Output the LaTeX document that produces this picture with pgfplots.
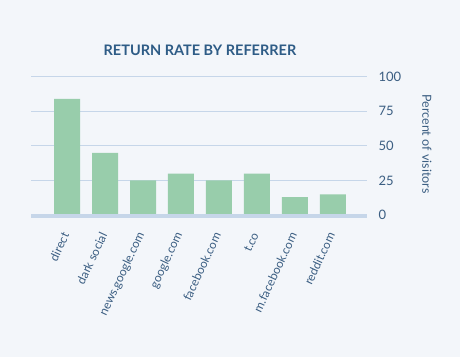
\documentclass[border=0pt]{standalone}
\usepackage{fontspec}
\setmainfont{Lato}
\usepackage{pgfplots}
\pgfplotsset{compat=1.18}
\definecolor{bg}{HTML}{F3F6FA}
\definecolor{gridc}{HTML}{C6D6E9}
\definecolor{barc}{HTML}{98CDAB}
\definecolor{titlec}{HTML}{2E5C86}
\definecolor{tickc}{HTML}{3B5E82}
\begin{document}
\begin{tikzpicture}[x=1pt,y=1pt]
\fill[bg] (0,0) rectangle (460,357);
\begin{axis}[
  at={(31pt,142pt)}, anchor=south west,
  scale only axis, width=336pt, height=138.3pt,
  xmin=-0.95, xmax=7.9, ymin=0, ymax=100,
  axis lines=none,
  ytick={0,25,50,75,100},
  yticklabel pos=right,
  ymajorgrids, grid style={gridc, line width=1.2pt},
  major tick length=0pt,
  xtick={0,...,7},
  xticklabels={direct,dark social,news.google.com,google.com,facebook.com,t.co,m.facebook.com,reddit.com},
  xticklabel shift=15pt,
  x tick label style={rotate=65, anchor=east, font=\fontsize{12}{13}\selectfont, color=tickc},
  y tick label style={font=\fontsize{13}{14}\selectfont, color=tickc, xshift=8pt},
  /pgf/number format/assume math mode=true,
  hide x axis=false, hide y axis=false,
  axis x line*=bottom, axis y line*=right,
  x axis line style={draw=none}, y axis line style={draw=none},
  clip=false,
]
\addplot[ybar, bar width=26pt, fill=barc, draw=none] coordinates {
(0,84) (1,45) (2,25) (3,30) (4,25) (5,30) (6,13) (7,15)};
\draw[gridc, line width=4pt] (axis cs:-0.95,-1) -- (axis cs:7.9,-1);
\end{axis}
\node[rotate=-90, font=\fontsize{12.5}{14}\selectfont, color=tickc] at (427,213) {Percent of visitors};
\node[font=\fontsize{14.5}{18}\selectfont\bfseries, color=titlec] at (200,307) {RETURN RATE BY REFERRER};
\end{tikzpicture}
\end{document}
